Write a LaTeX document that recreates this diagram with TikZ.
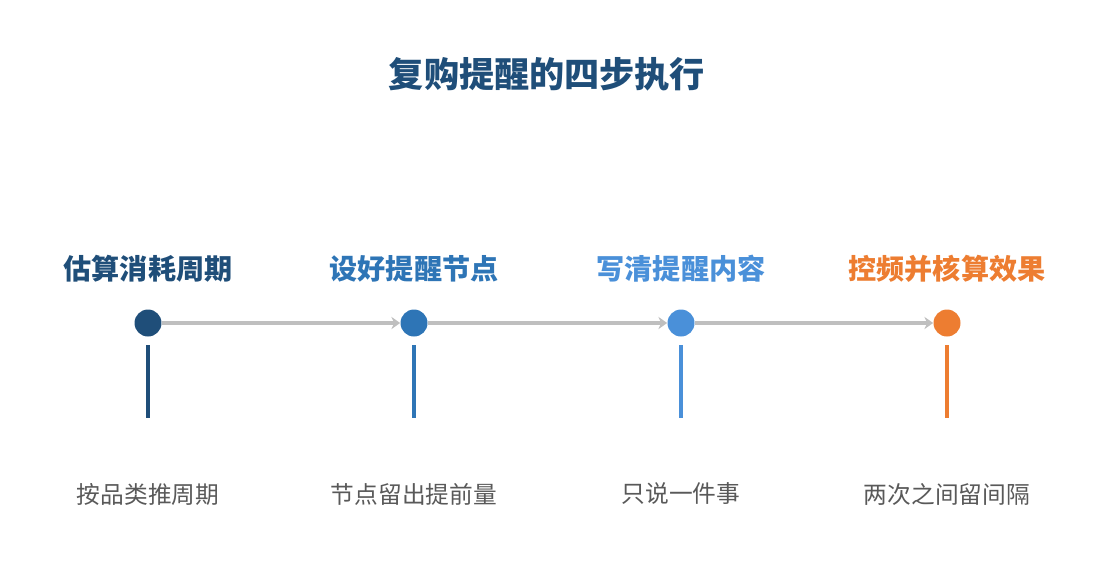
\documentclass[tikz,border=0pt]{standalone}
\usepackage{fontspec}
\newfontfamily\cjk{Noto Sans CJK SC}
\usetikzlibrary{positioning}
\usetikzlibrary{arrows.meta}
\definecolor{stepA}{HTML}{1F4E79}
\definecolor{stepB}{HTML}{2E75B6}
\definecolor{stepC}{HTML}{4A90D9}
\definecolor{stepD}{HTML}{ED7D31}
\definecolor{linegray}{HTML}{BFBFBF}
\definecolor{textgray}{HTML}{595959}
\tikzset{x=0.02cm, y=-0.02cm,
    every node/.style={font=\cjk},
    dot/.style={circle, inner sep=0pt, minimum size=0.54cm},
    head/.style={font=\cjk\bfseries\fontsize{16}{18}\selectfont},
    desc/.style={font=\cjk\fontsize{13.5}{16}\selectfont, text=textgray},
    link/.style={draw=linegray, line width=2.2pt, -{Stealth[length=5pt,width=7pt]}},
    stem/.style={line width=2.2pt}}

\begin{document}
\begin{tikzpicture}
        \useasboundingbox (0,0) rectangle (1095,585);
        \node[font=\cjk\bfseries\fontsize{20}{24}\selectfont, text=stepA] (title) at (547,74) {复购提醒的四步执行};

        \node[dot, fill=stepA] (1) at (148,323) {};
        \node[dot, fill=stepB] (2) at (414,323) {};
        \node[dot, fill=stepC] (3) at (681,323) {};
        \node[dot, fill=stepD] (4) at (947,323) {};

        \draw[link] (1) -- (2);
        \draw[link] (2) -- (3);
        \draw[link] (3) -- (4);

        \node[head, text=stepA] (h1) at (148,269) {估算消耗周期};
        \node[head, text=stepB] (h2) at (414,269) {设好提醒节点};
        \node[head, text=stepC] (h3) at (681,269) {写清提醒内容};
        \node[head, text=stepD] (h4) at (947,269) {控频并核算效果};

        \coordinate (s1) at (148,345); \coordinate (e1) at (148,418);
        \coordinate (s2) at (414,345); \coordinate (e2) at (414,418);
        \coordinate (s3) at (681,345); \coordinate (e3) at (681,418);
        \coordinate (s4) at (947,345); \coordinate (e4) at (947,418);
        \draw[stem, stepA] (s1) -- (e1);
        \draw[stem, stepB] (s2) -- (e2);
        \draw[stem, stepC] (s3) -- (e3);
        \draw[stem, stepD] (s4) -- (e4);

        \node[desc] (d1) at (148,494) {按品类推周期};
        \node[desc] (d2) at (414,494) {节点留出提前量};
        \node[desc] (d3) at (681,494) {只说一件事};
        \node[desc] (d4) at (947,494) {两次之间留间隔};
\end{tikzpicture}
\end{document}
